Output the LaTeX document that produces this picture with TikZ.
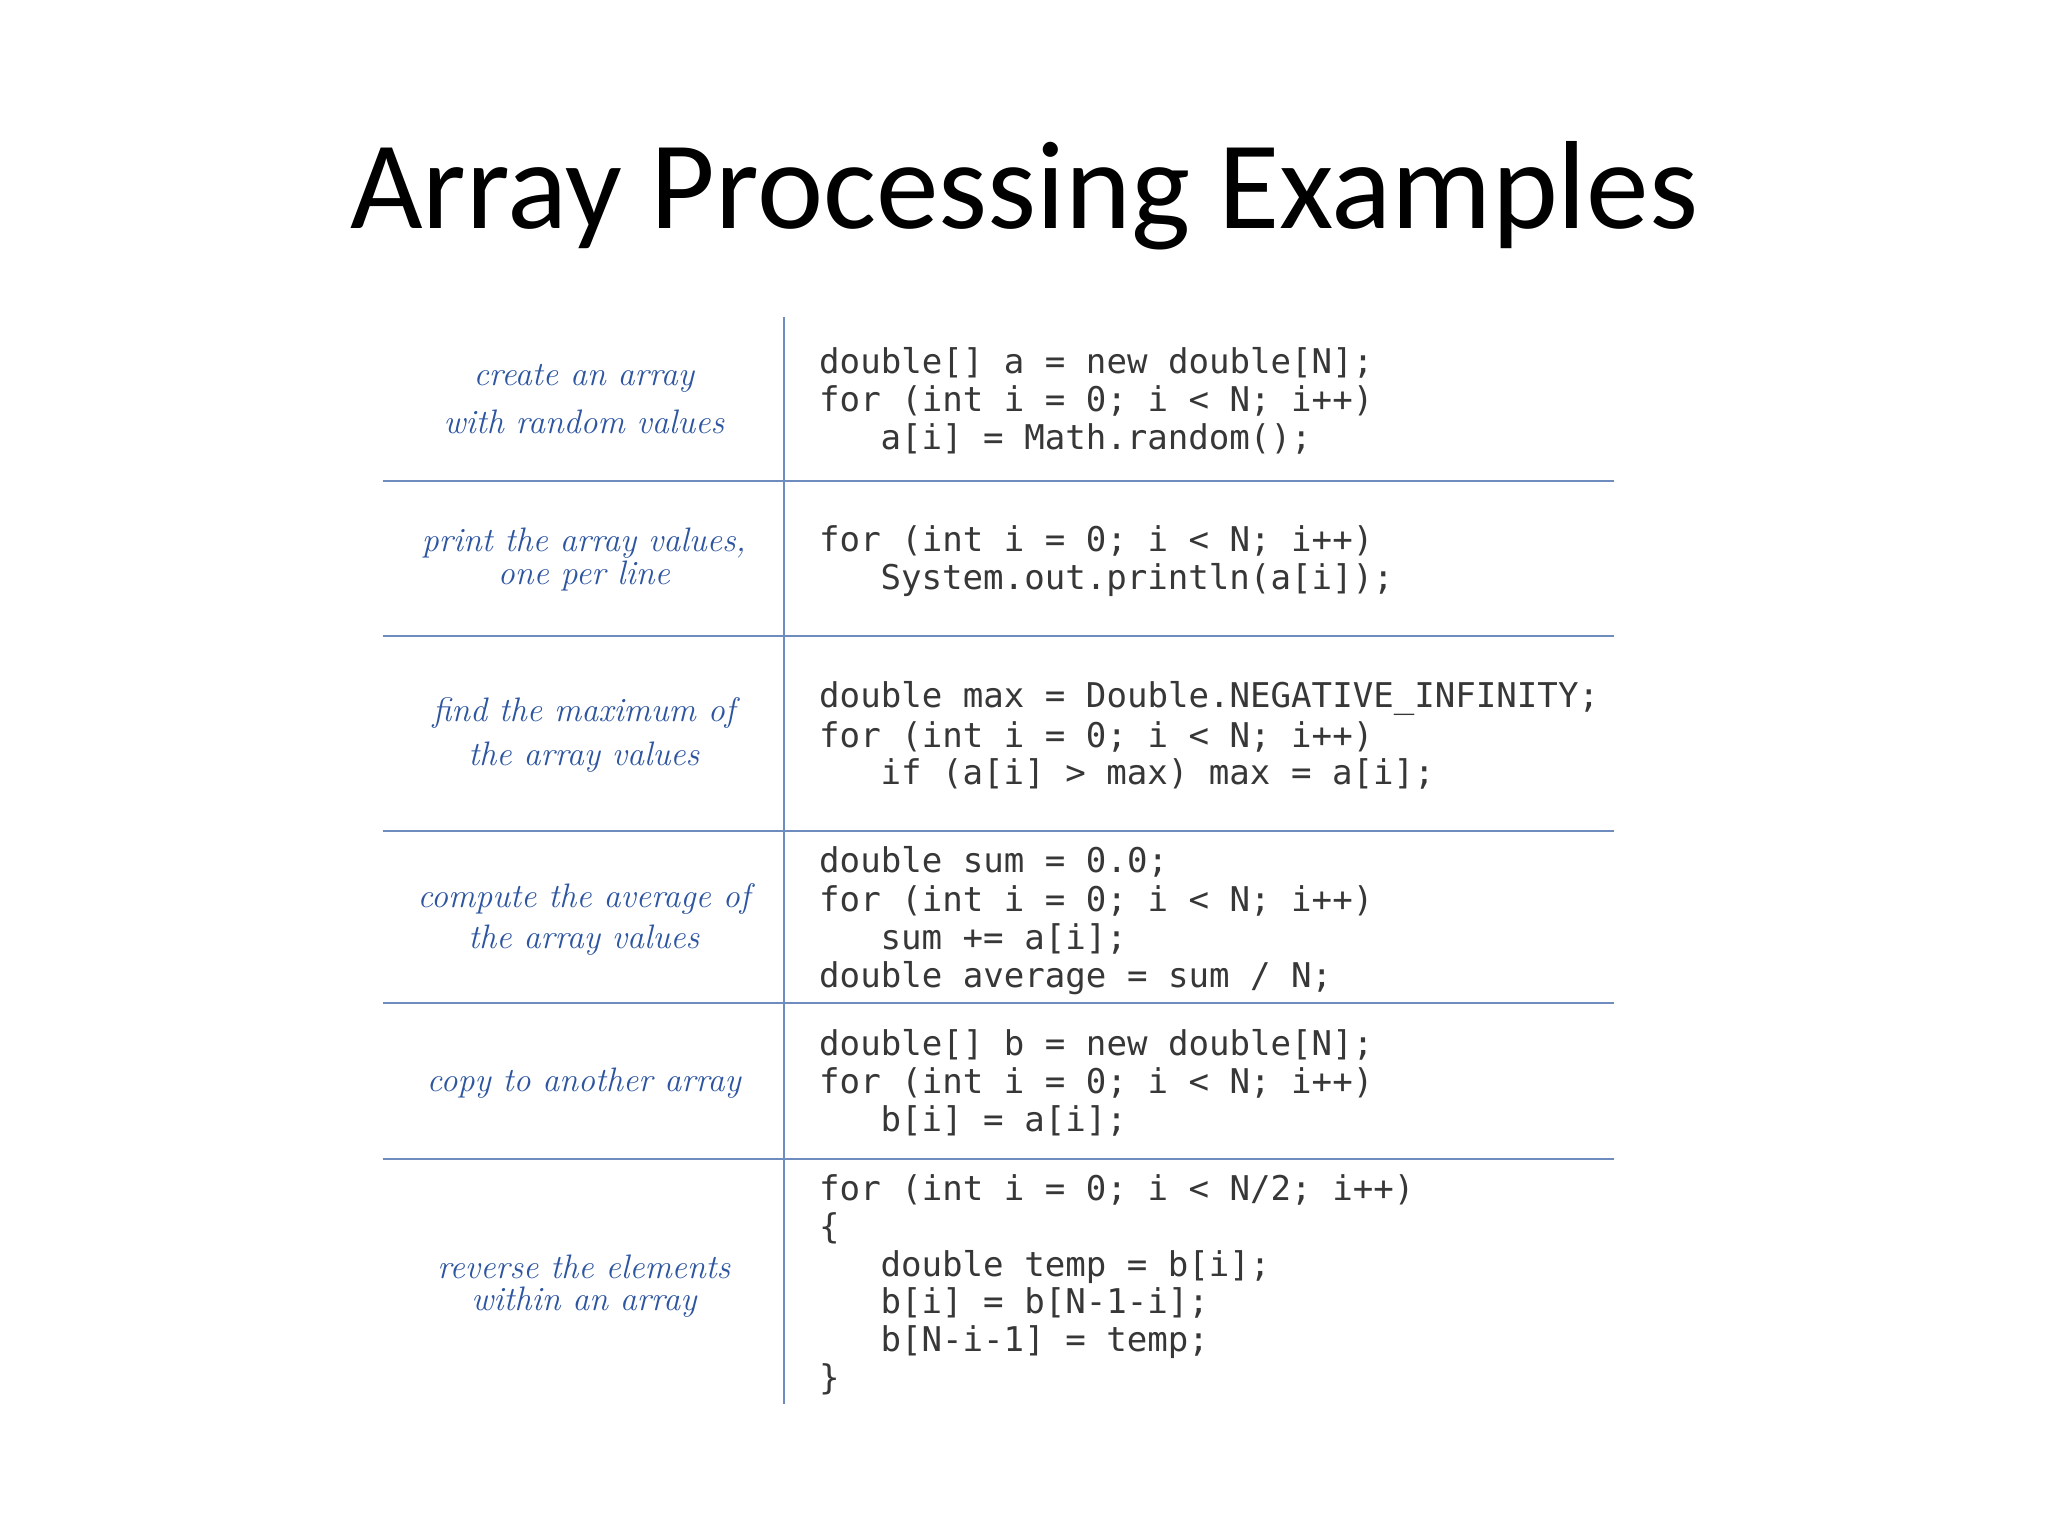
\documentclass[tikz,border=0pt]{standalone}
\usepackage{fontspec}
\newfontfamily\titlefont{Carlito}
\newfontfamily\codefont{DejaVu Sans Mono}
\definecolor{lbl}{RGB}{45,85,160}
\definecolor{rule}{RGB}{110,140,190}
\definecolor{code}{RGB}{55,55,55}
\begin{document}
\begin{tikzpicture}[x=1pt,y=-1pt,
  lab/.style={font=\fontsize{26}{26}\selectfont\itshape,text=lbl,inner sep=0pt},
  cl/.style={font=\codefont\fontsize{26.1}{25}\selectfont,text=code,anchor=base west,inner sep=0pt},
  rl/.style={draw=rule,line width=1.6pt}]
\useasboundingbox[fill=white] (0,0) rectangle (1568,1176);
\node[font=\titlefont\fontsize{96}{96}\selectfont,inner sep=0pt] (title) at (784,150) {Array Processing Examples};
\coordinate (vt) at (600,243); \coordinate (vb) at (600,1075);
\draw[rl] (vt) -- (vb);
\foreach \y [count=\i] in {368,487,636,768,887}{
  \coordinate (hl\i) at (293,\y); \coordinate (hr\i) at (1236,\y);
  \draw[rl] (hl\i) -- (hr\i);}
\node[lab] (l1a) at (447,290) {create an array};
\node[lab] (l1b) at (447,323) {with random values};
\node[lab] (l2a) at (447,416) {print the array values,};
\node[lab] (l2b) at (447,441) {one per line};
\node[lab] (l3a) at (447,546) {find the maximum of};
\node[lab] (l3b) at (447,580) {the array values};
\node[lab] (l4a) at (447,688) {compute the average of};
\node[lab] (l4b) at (447,720) {the array values};
\node[lab] (l5a) at (447,829) {copy to another array};
\node[lab] (l6a) at (447,970) {reverse the elements};
\node[lab] (l6b) at (447,997) {within an array};
\def\cx{627}\def\ix{674}
\node[cl] (c1) at (\cx,286) {double[] a = new double[N];};
\node[cl] (c2) at (\cx,315) {for (int i = 0; i < N; i++)};
\node[cl] (c3) at (\ix,344) {a[i] = Math.random();};
\node[cl] (c4) at (\cx,422) {for (int i = 0; i < N; i++)};
\node[cl] (c5) at (\ix,451) {System.out.println(a[i]);};
\node[cl] (c6) at (\cx,542) {double max = Double.NEGATIVE\_INFINITY;};
\node[cl] (c7) at (\cx,572) {for (int i = 0; i < N; i++)};
\node[cl] (c8) at (\ix,601) {if (a[i] > max) max = a[i];};
\node[cl] (c9) at (\cx,668) {double sum = 0.0;};
\node[cl] (c10) at (\cx,698) {for (int i = 0; i < N; i++)};
\node[cl] (c11) at (\ix,727) {sum += a[i];};
\node[cl] (c12) at (\cx,756) {double average = sum / N;};
\node[cl] (c13) at (\cx,808) {double[] b = new double[N];};
\node[cl] (c14) at (\cx,837) {for (int i = 0; i < N; i++)};
\node[cl] (c15) at (\ix,866) {b[i] = a[i];};
\node[cl] (c16) at (\cx,919) {for (int i = 0; i < N/2; i++)};
\node[cl] (c17) at (\cx,948) {\{};
\node[cl] (c18) at (\ix,977) {double temp = b[i];};
\node[cl] (c19) at (\ix,1006) {b[i] = b[N-1-i];};
\node[cl] (c20) at (\ix,1035) {b[N-i-1] = temp;};
\node[cl] (c21) at (\cx,1064) {\}};
\end{tikzpicture}
\end{document}
